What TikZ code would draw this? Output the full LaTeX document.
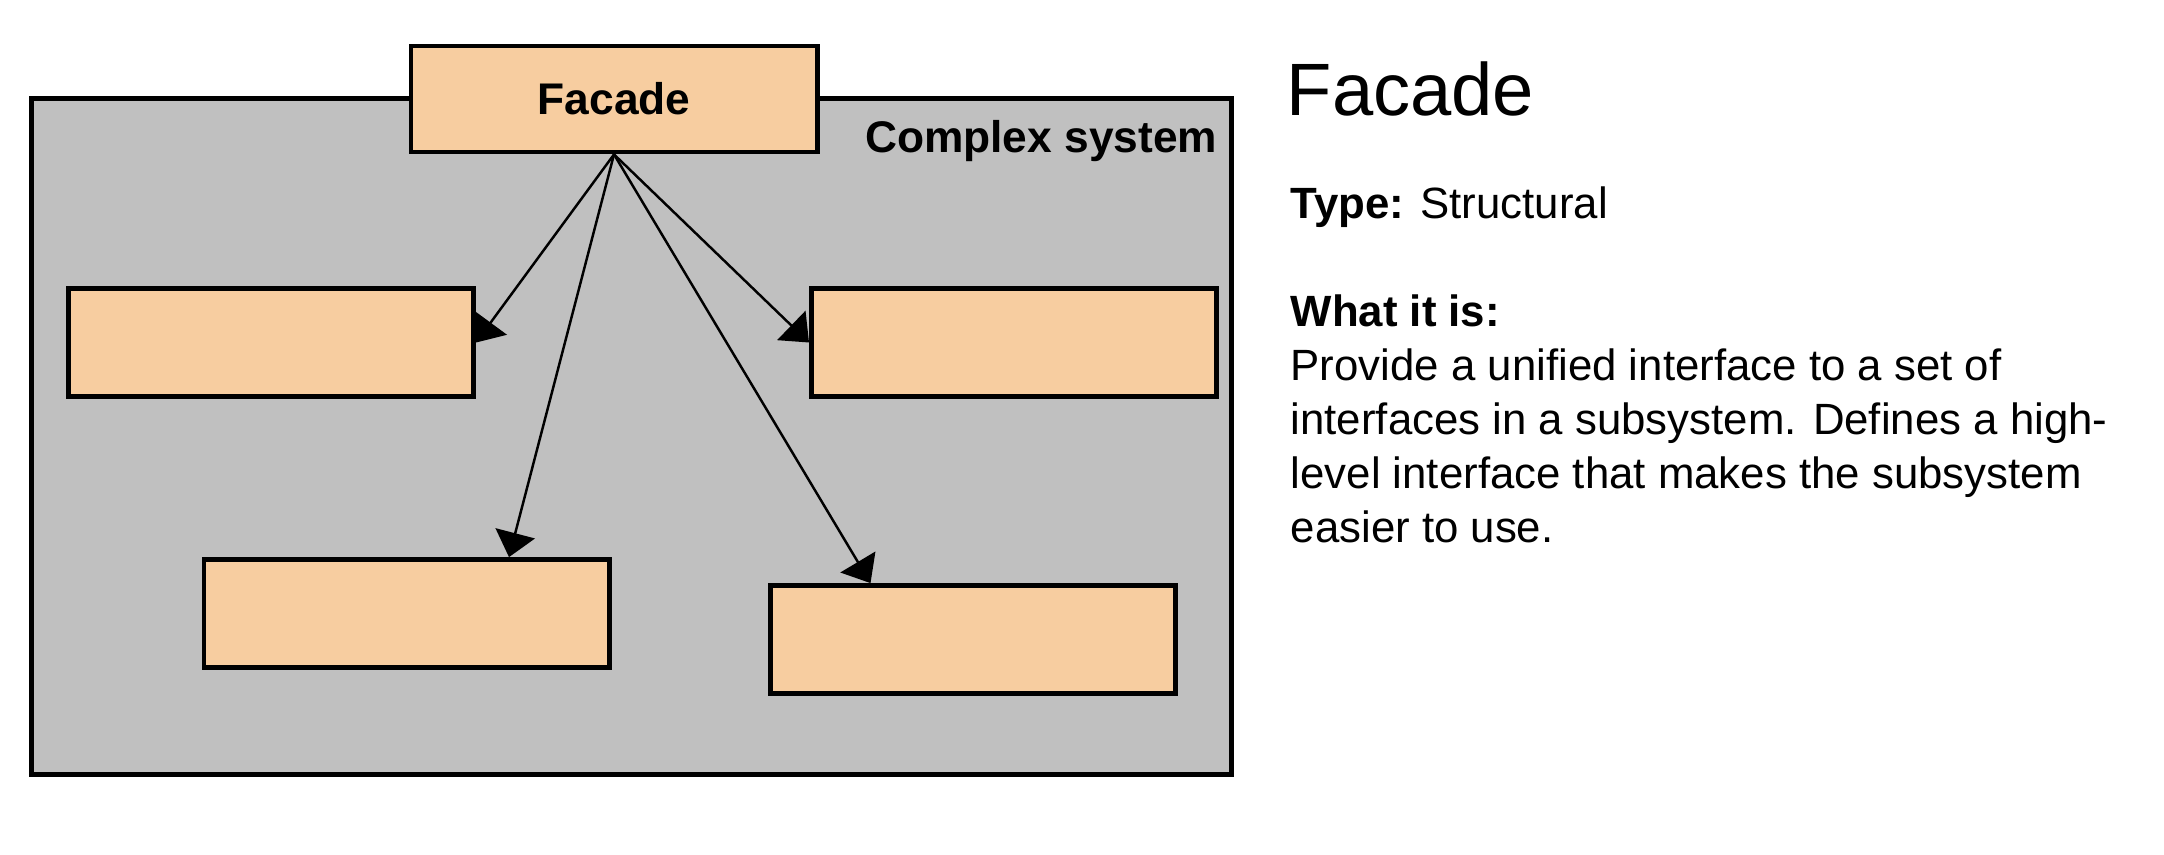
\documentclass[tikz,border=0pt]{standalone}
\usepackage{fontspec}
\setmainfont{Liberation Sans}
\usetikzlibrary{calc, arrows.meta}
\definecolor{partO}{RGB}{247, 205, 160}
\definecolor{sysG}{RGB}{192, 192, 192}

\tikzset{
  partbox/.style={draw=black, line width=1.35pt, fill=partO,
                  minimum width=4.05cm, minimum height=1.08cm, inner sep=0pt},
  callarrow/.style={-{Triangle[length=7pt, width=11.5pt]}, line width=0.7pt},
  bodytxt/.style={font=\fontsize{12.45}{15}\selectfont, anchor=base west, inner sep=0pt},
}

\begin{document}
\begin{tikzpicture}[x=0.01cm, y=-0.01cm]
        % 1 unit = 1 px of the 2164 x 854 sheet, y runs down
        \useasboundingbox (0,0) rectangle (2164,854);

        % ── Complex system (grey frame) ─────────────────────────────────
        \node[draw=black, line width=1.35pt, fill=sysG, inner sep=0pt,
              minimum width=11.99cm, minimum height=6.75cm] (sys) at (631.5,436.5) {};
        \node[font=\fontsize{12.6}{15}\selectfont\bfseries, anchor=base east,
              inner sep=0pt] (syslbl) at (1218,152) {Complex system};

        % ── Subsystem parts ────────────────────────────────────────────
        \node[partbox] (sub1) at (271,342.5) {};
        \node[partbox] (sub2) at (1014,342.5) {};
        \node[partbox] (sub3) at (406.5,613.5) {};
        \node[partbox] (sub4) at (973,639.5) {};

        % ── Facade on top of the frame ─────────────────────────────────
        \node[partbox, minimum width=4.06cm, minimum height=1.06cm,
              font=\fontsize{12.6}{15}\selectfont\bfseries] (facade) at (614,99) {Facade};

        % ── Calls from the facade ──────────────────────────────────────
        \coordinate (in3) at ($(sub3.north west)!0.75!(sub3.north east)$);
        \coordinate (in4) at ($(sub4.north west)!0.25!(sub4.north east)$);
        \foreach \tgt in {sub1.east, sub2.west, in3, in4}
          \draw[callarrow] (facade.south) -- (\tgt);

        % ── Description ────────────────────────────────────────────────
        \node[bodytxt, font=\fontsize{21.1}{25}\selectfont] (title) at (1286,115) {Facade};
        \node[bodytxt] (kind) at (1290,218) {\textbf{Type:} Structural};
        \node[bodytxt, font=\fontsize{12.45}{15}\selectfont\bfseries] (what) at (1290,326) {What it is:};
        \foreach \txt [count=\i] in {Provide a unified interface to a set of,
                                    interfaces in a subsystem. Defines a high-,
                                    level interface that makes the subsystem,
                                    easier to use.}
          \node[bodytxt] (desc\i) at (1290,326+54*\i) {\txt};
      \end{tikzpicture}
\end{document}
